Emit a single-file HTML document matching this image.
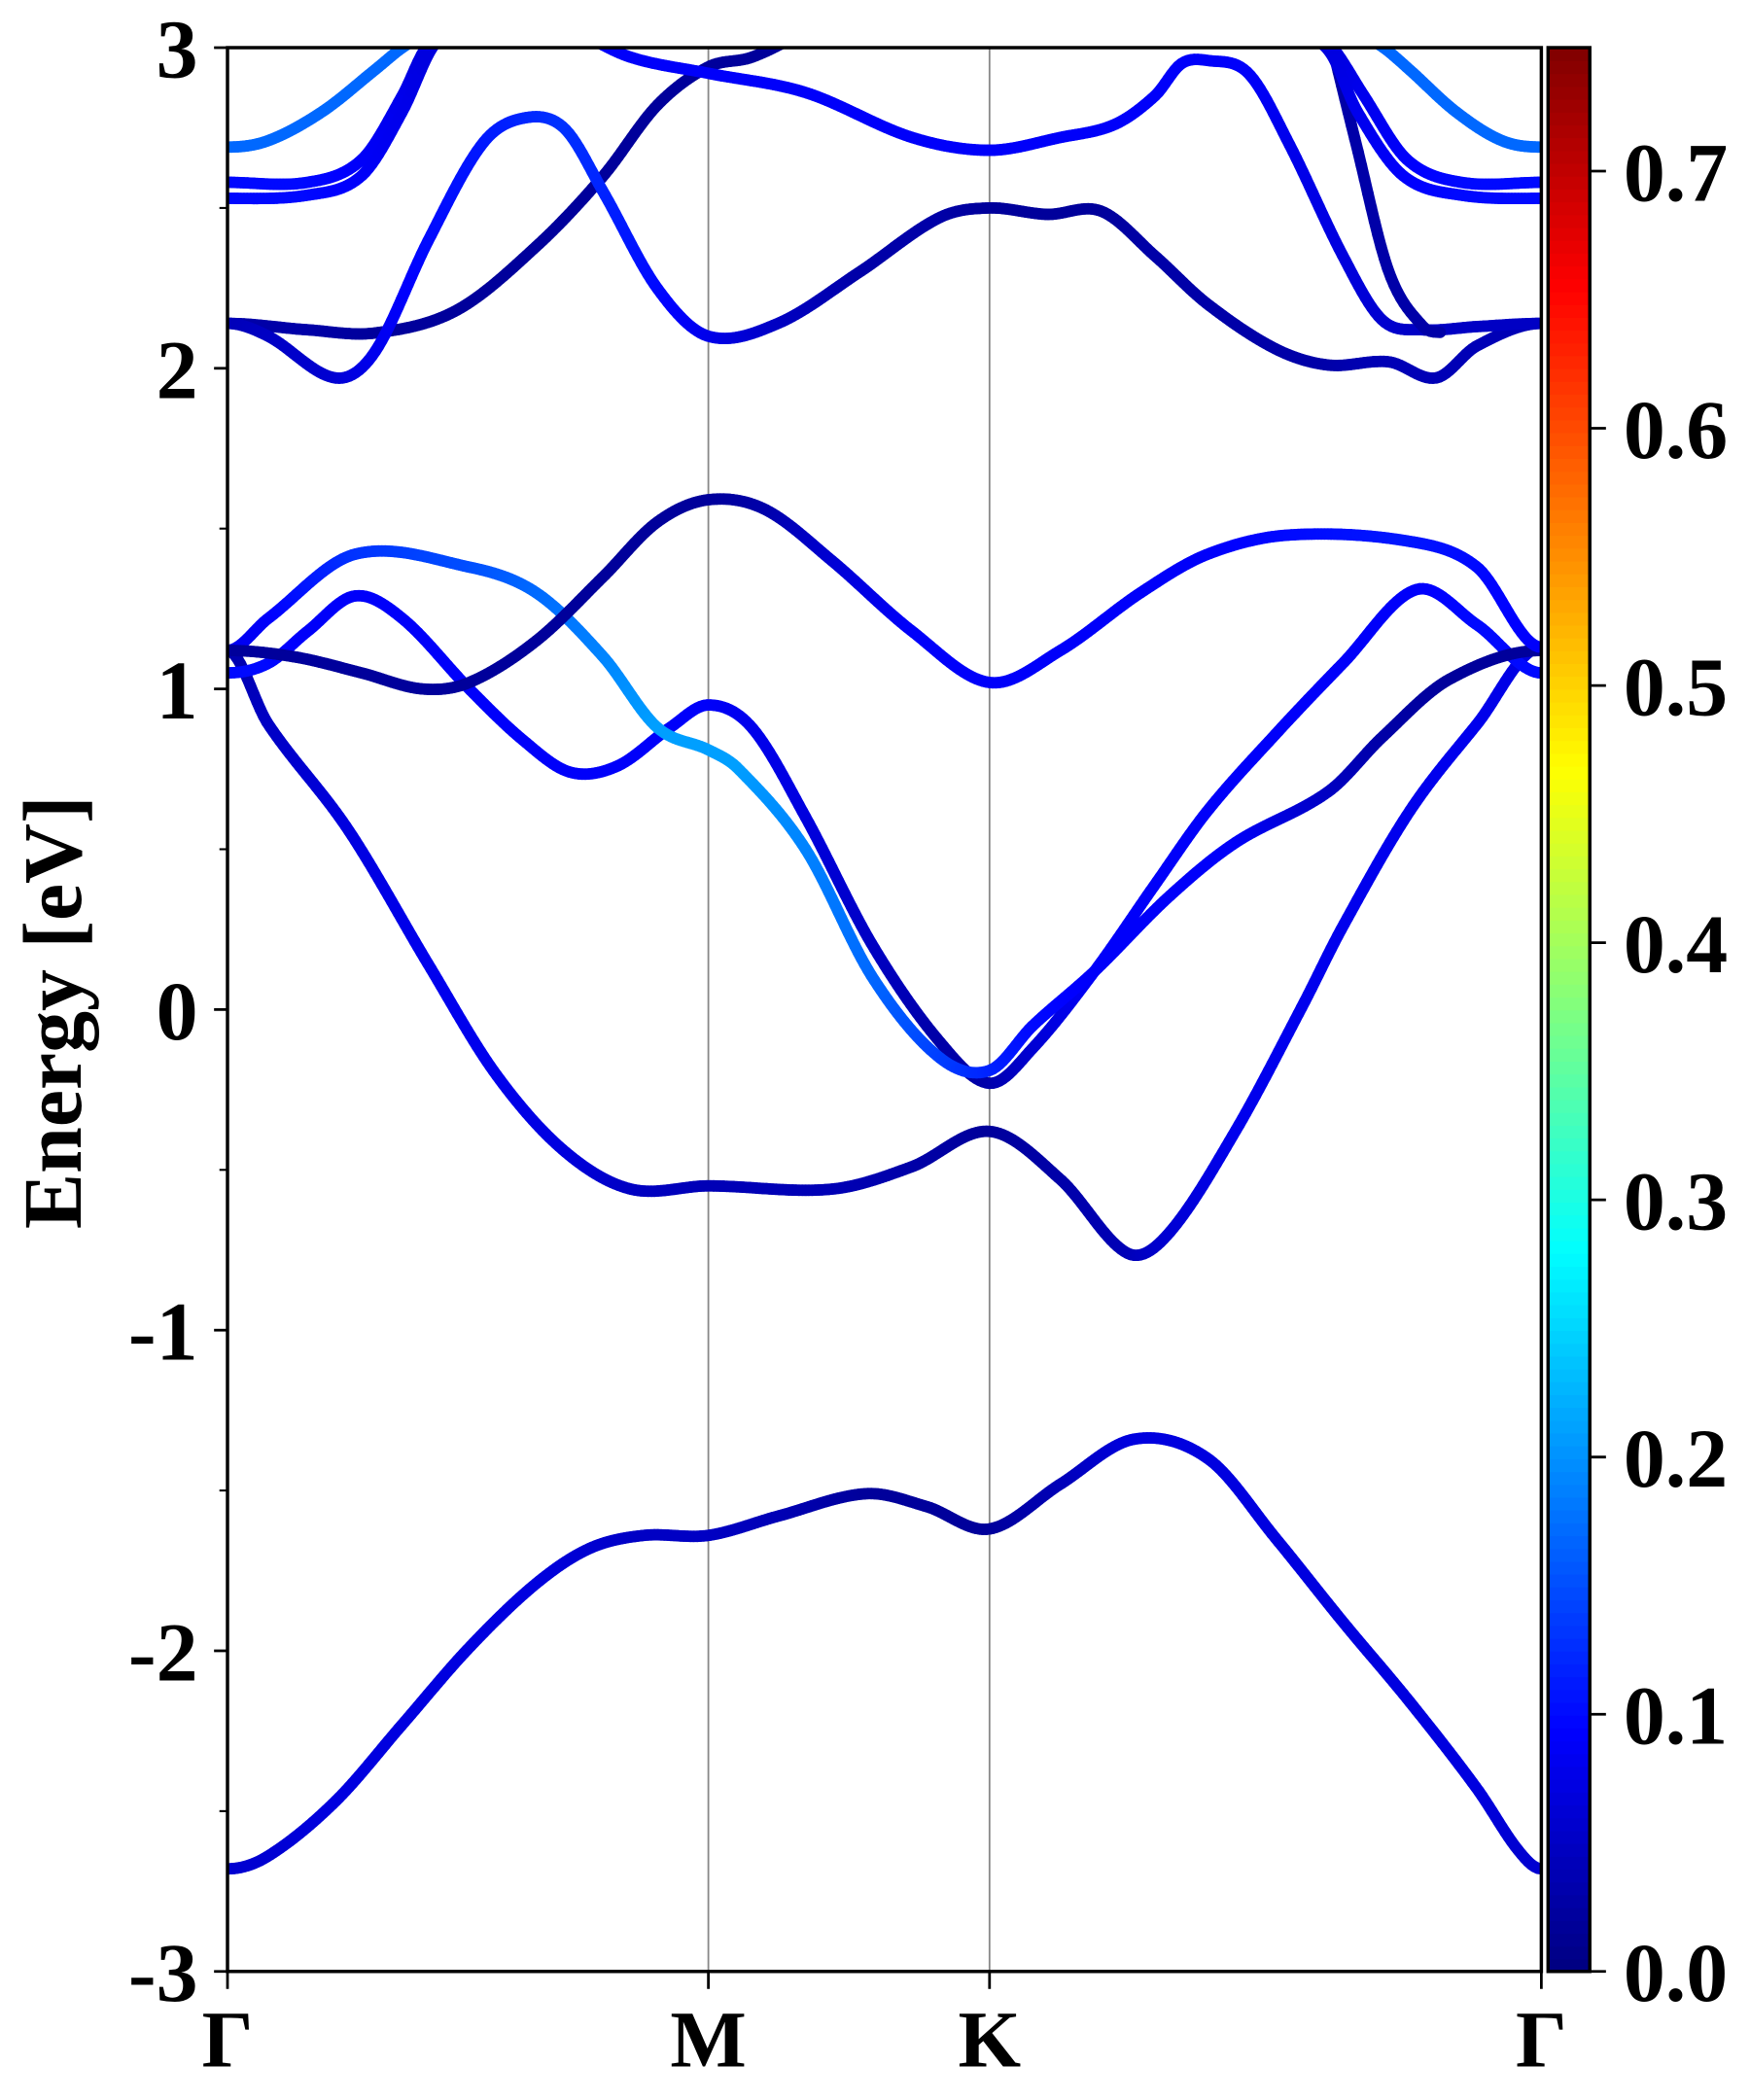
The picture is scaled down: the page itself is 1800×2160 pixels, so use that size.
<!DOCTYPE html>
<html><head><meta charset="utf-8"><style>
html,body{margin:0;padding:0;background:#fff;}
svg{display:block;}
text{font-family:"Liberation Serif","Times New Roman",Times,serif;font-weight:bold;fill:#000;}
</style></head>
<body>
<svg id="chart" width="1800" height="2160" viewBox="0 0 1300 1560" xmlns="http://www.w3.org/2000/svg">
<defs><clipPath id="plotclip"><rect x="169" y="35.4" width="976" height="1429.1"/></clipPath></defs>
<rect x="0" y="0" width="1300" height="1560" fill="#fff"/>
<g id="grid"></g>
<g id="bands" clip-path="url(#plotclip)"></g>
<g id="axes"></g>
<g id="cbar"></g>
<text font-family="Liberation Serif, Times New Roman, serif" font-weight="bold" transform="translate(60,752) rotate(-90)" text-anchor="middle" font-size="62">Energy [eV]</text>
</svg>
<script>
// k in percent of path (Γ=0, M=36.6, K=58.0, Γ=100), energies in eV, weights
const kLabels=["Γ","M","K","Γ"];
const kTicks=[0,36.6,58.0,100];
const yTicks=[-3,-2,-1,0,1,2,3];
const cbTicks=[0.0,0.1,0.2,0.3,0.4,0.5,0.6,0.7];
const cbMax=0.748;

const bandAK=[0,3.1,8.2,13.3,18.4,23.5,27.6,31.7,36.6,41.9,48.6,53.2,58.0,63.4,69.0,74.6,79.8,84.9,90.0,95.1,98.2,100];
const bandAE=[-2.68,-2.64,-2.47,-2.23,-1.99,-1.79,-1.68,-1.64,-1.64,-1.58,-1.51,-1.55,-1.62,-1.48,-1.34,-1.40,-1.65,-1.91,-2.16,-2.43,-2.62,-2.68];
const bandAW=[.06,.06,.07,.07,.07,.07,.06,.05,.05,.04,.02,.02,.02,.04,.07,.07,.07,.07,.07,.07,.06,.06];

const bandBK=[0,3.1,9.2,15.3,20.4,25.6,30.7,36.6,46.0,52.1,58.0,63.4,68.5,71.6,76.7,81.8,84.9,90.0,95.1,100];
const bandBE=[1.12,0.89,0.56,0.14,-0.2,-0.44,-0.56,-0.55,-0.56,-0.49,-0.38,-0.53,-0.76,-0.7,-0.38,0.01,0.26,0.62,0.89,1.13];
const bandBW=[.03,.05,.07,.08,.08,.07,.05,.04,.04,.03,.02,.03,.04,.06,.08,.08,.08,.08,.08,.07];

const bandCK=[0,3.1,6.1,9.7,13.3,18.4,22.5,26.1,29.7,33.7,36.6,39.9,44.0,49.1,54.2,58.0,61.3,66.0,70.6,74.6,79.8,84.9,90.5,95.1,100];
const bandCE=[1.05,1.08,1.18,1.29,1.22,1.0,0.84,0.74,0.76,0.88,0.95,0.88,0.6,0.2,-0.1,-0.23,-0.12,0.12,0.39,0.62,0.86,1.08,1.31,1.2,1.05];
const bandCW=[.1,.1,.09,.09,.09,.09,.09,.09,.09,.09,.09,.08,.07,.05,.03,.03,.06,.09,.09,.09,.09,.09,.09,.1,.1];

const bandDK=[0,3.1,9.7,18.4,23.5,28.6,32.7,36.6,38.9,44.0,49.1,54.2,58.0,61.3,66.0,71.6,76.7,83.8,87.9,93.0,100];
const bandDE=[1.12,1.22,1.42,1.38,1.3,1.1,0.88,0.81,0.75,0.5,0.1,-0.15,-0.19,-0.05,0.12,0.35,0.52,0.68,0.85,1.03,1.12];
const bandDW=[.08,.09,.13,.15,.17,.19,.21,.21,.21,.19,.17,.14,.12,.1,.09,.09,.09,.05,.03,.02,.02];

const bandEK=[0,5.1,10.2,14.8,18.4,23.5,28.6,32.7,36.6,40.9,46.0,52.1,58.0,63.4,69.5,74.6,80.8,90.0,95.1,100];
const bandEE=[1.12,1.1,1.05,1.0,1.02,1.15,1.35,1.52,1.59,1.56,1.4,1.18,1.02,1.12,1.3,1.42,1.48,1.46,1.38,1.13];
const bandEW=[.02,.02,.02,.02,.02,.02,.02,.02,.02,.03,.06,.09,.09,.09,.09,.09,.1,.11,.1,.09];

const bandFK=[0,6.1,11.2,17.4,23.5,28.6,32.7,36.6,39.9,44.0];
const bandFE=[2.14,2.12,2.11,2.18,2.38,2.6,2.82,2.94,2.97,3.05];
const bandFW=[.03,.03,.02,.02,.02,.02,.02,.02,.02,.02];

const bandGK=[0,3.1,8.2,11.2,15.3,19.4,22.5,25.6,28.6,32.7,36.6,41.9,48.1,54.2,58.0,62.4,66.5,70.6,74.6,79.8,83.8,88.4,92.0,95.1,100];
const bandGE=[2.14,2.1,1.97,2.05,2.4,2.7,2.78,2.75,2.55,2.25,2.1,2.14,2.3,2.47,2.5,2.48,2.49,2.35,2.2,2.06,2.01,2.02,1.97,2.07,2.14];
const bandGW=[.04,.05,.06,.08,.1,.11,.12,.13,.12,.1,.08,.05,.03,.03,.02,.02,.02,.03,.03,.03,.03,.04,.04,.04,.04];

const bandHK=[26.6,30.7,36.6,44.0,52.1,58.0,63.4,67.5,70.6,72.6,74.6,77.7,80.8,84.9,87.9,91.0,95.1,100];
const bandHE=[3.05,2.97,2.92,2.86,2.72,2.68,2.72,2.76,2.85,2.95,2.96,2.92,2.7,2.35,2.15,2.12,2.13,2.14];
const bandHW=[.09,.09,.09,.09,.09,.09,.09,.09,.09,.09,.09,.09,.08,.07,.06,.05,.05,.05];

const bandIK=[83.8,85.9,88.4,91.0,92.5];
const bandIE=[3.05,2.7,2.3,2.13,2.11];
const bandIW=[.03,.03,.03,.03,.03];

const bandJ1K=[0,3.1,7.2,11.2,13.3,15.3];
const bandJ1E=[2.69,2.71,2.8,2.93,3.0,3.05];
const bandJ1W=[.17,.17,.17,.17,.17,.17];
const bandJ2K=[0,6.1,10.2,13.3,14.8,16];
const bandJ2E=[2.58,2.58,2.65,2.85,2.98,3.05];
const bandJ2W=[.1,.1,.09,.08,.07,.07];
const bandJ3K=[0,6.1,10.2,13.3,15.3,16.5];
const bandJ3E=[2.53,2.54,2.6,2.8,2.98,3.05];
const bandJ3W=[.1,.1,.09,.08,.07,.07];

const bandJ4K=[86,88,90,93.5,97,100];
const bandJ4E=[3.05,3.0,2.93,2.8,2.71,2.69];
const bandJ4W=[.17,.17,.17,.17,.17,.17];
const bandJ5K=[83,84.5,86.5,89.8,93.9,100];
const bandJ5E=[3.05,2.98,2.85,2.65,2.58,2.58];
const bandJ5W=[.07,.07,.08,.09,.1,.1];
const bandJ6K=[82,84,86,89.5,93.9,100];
const bandJ6E=[3.05,2.98,2.8,2.6,2.54,2.53];
const bandJ6W=[.07,.07,.08,.09,.1,.1];

const NS="http://www.w3.org/2000/svg";
const PL=169,PR=1145,PT=35.4,PB=1464.5,EMIN=-3,EMAX=3;
function xS(k){return PL+(PR-PL)*k/100;}
function yS(e){return PB-(PB-PT)*(e-EMIN)/(EMAX-EMIN);}
function cl(v){return Math.max(0,Math.min(1,v));}
function jet(v){v=cl(v);
 const r=cl(Math.min(4*v-1.5,-4*v+4.5)),g=cl(Math.min(4*v-0.5,-4*v+3.5)),b=cl(Math.min(4*v+0.5,-4*v+2.5));
 return "rgb("+Math.round(r*255)+","+Math.round(g*255)+","+Math.round(b*255)+")";}
function mk(tag,attrs,parent){const el=document.createElementNS(NS,tag);for(const a in attrs)el.setAttribute(a,attrs[a]);parent.appendChild(el);return el;}

function spline(xs,ys){
 const n=xs.length,m=new Array(n);
 for(let i=1;i<n-1;i++)m[i]=(ys[i+1]-ys[i-1])/(xs[i+1]-xs[i-1]);
 m[0]=(xs[0]===0)?0:(ys[1]-ys[0])/(xs[1]-xs[0]);
 m[n-1]=(xs[n-1]===100)?0:(ys[n-1]-ys[n-2])/(xs[n-1]-xs[n-2]);
 return function(x){let i=0;while(i<n-2&&x>xs[i+1])i++;
  const h=xs[i+1]-xs[i],t=(x-xs[i])/h,t2=t*t,t3=t2*t;
  return (2*t3-3*t2+1)*ys[i]+(t3-2*t2+t)*h*m[i]+(-2*t3+3*t2)*ys[i+1]+(t3-t2)*h*m[i+1];};
}
function lin(xs,ys,x){let i=0;while(i<xs.length-2&&x>xs[i+1])i++;const t=(x-xs[i])/(xs[i+1]-xs[i]);return ys[i]+(ys[i+1]-ys[i])*t;}

const gB=document.getElementById('bands');
const bandList=[
 ["band-a",bandAK,bandAE,bandAW],["band-b",bandBK,bandBE,bandBW],["band-c",bandCK,bandCE,bandCW],
 ["band-d",bandDK,bandDE,bandDW],["band-e",bandEK,bandEE,bandEW],["band-f",bandFK,bandFE,bandFW],
 ["band-g",bandGK,bandGE,bandGW],["band-h",bandHK,bandHE,bandHW],["band-i",bandIK,bandIE,bandIW],
 ["band-j1",bandJ1K,bandJ1E,bandJ1W],["band-j2",bandJ2K,bandJ2E,bandJ2W],["band-j3",bandJ3K,bandJ3E,bandJ3W],
 ["band-j4",bandJ4K,bandJ4E,bandJ4W],["band-j5",bandJ5K,bandJ5E,bandJ5W],["band-j6",bandJ6K,bandJ6E,bandJ6W]];
bandList.forEach(function(b){
 const g=mk('g',{},gB);
 
 
 const ks=b[1],es=b[2],ws=b[3],f=spline(ks,es);
 const k0=ks[0],k1=ks[ks.length-1],step=0.25;
 let pk=k0,pe=f(k0);
 for(let k=k0+step;k<=k1+1e-9;k+=step){
  const kk=Math.min(k,k1),e=f(kk),w=lin(ks,ws,(pk+kk)/2);
  mk('line',{x1:xS(pk).toFixed(2),y1:yS(pe).toFixed(2),x2:xS(kk).toFixed(2),y2:yS(e).toFixed(2),stroke:jet(w/cbMax),'stroke-width':8.5,'stroke-linecap':'round'},g);
  pk=kk;pe=e;
 }
});

const gG=document.getElementById('grid'),gA=document.getElementById('axes');
const FF="Liberation Serif, Times New Roman, serif";
kTicks.forEach(function(k,i){
 if(i>0&&i<kTicks.length-1){const l=mk('line',{x1:xS(k),y1:PT,x2:xS(k),y2:PB,stroke:'#888','stroke-width':1.3},gG);
  
  }
 mk('line',{x1:xS(k),y1:PB,x2:xS(k),y2:PB+13,stroke:'#000','stroke-width':2},gA);
 const t=mk('text',{x:xS(k),y:1535,'text-anchor':'middle','font-size':60,'font-family':FF,'font-weight':'bold'},gA);
 t.textContent=kLabels[i];
 
 
});
mk('rect',{x:PL,y:PT,width:PR-PL,height:PB-PT,fill:'none',stroke:'#000','stroke-width':2.5},gA);
yTicks.forEach(function(v){
 mk('line',{x1:PL-10,y1:yS(v),x2:PL,y2:yS(v),stroke:'#000','stroke-width':2},gA);
 const t=mk('text',{x:147,y:yS(v)+22,'text-anchor':'end','font-size':62,'font-family':FF,'font-weight':'bold'},gA);
 t.textContent=String(v);
 
 
});
for(let v=-2.5;v<3;v+=1){mk('line',{x1:PL-6,y1:yS(v),x2:PL,y2:yS(v),stroke:'#000','stroke-width':1.5},gA);}

const gC=document.getElementById('cbar');
const CX=1150,CW=31,N=150;
for(let i=0;i<N;i++){
 const y0=PB-(PB-PT)*(i+1)/N,h=(PB-PT)/N+0.6;
 mk('rect',{x:CX,y:y0,width:CW,height:h,fill:jet((i+0.5)/N)},gC);
}
mk('rect',{x:CX,y:PT,width:CW,height:PB-PT,fill:'none',stroke:'#000','stroke-width':2.5},gC);
cbTicks.forEach(function(v){
 const y=PB-(PB-PT)*v/cbMax;
 mk('line',{x1:CX+CW,y1:y,x2:CX+CW+12,y2:y,stroke:'#000','stroke-width':2},gC);
 const t=mk('text',{x:1206,y:y+22,'font-size':62,'font-family':FF,'font-weight':'bold'},gC);
 t.textContent=v.toFixed(1);
 
 
});
</script>
</body></html>
